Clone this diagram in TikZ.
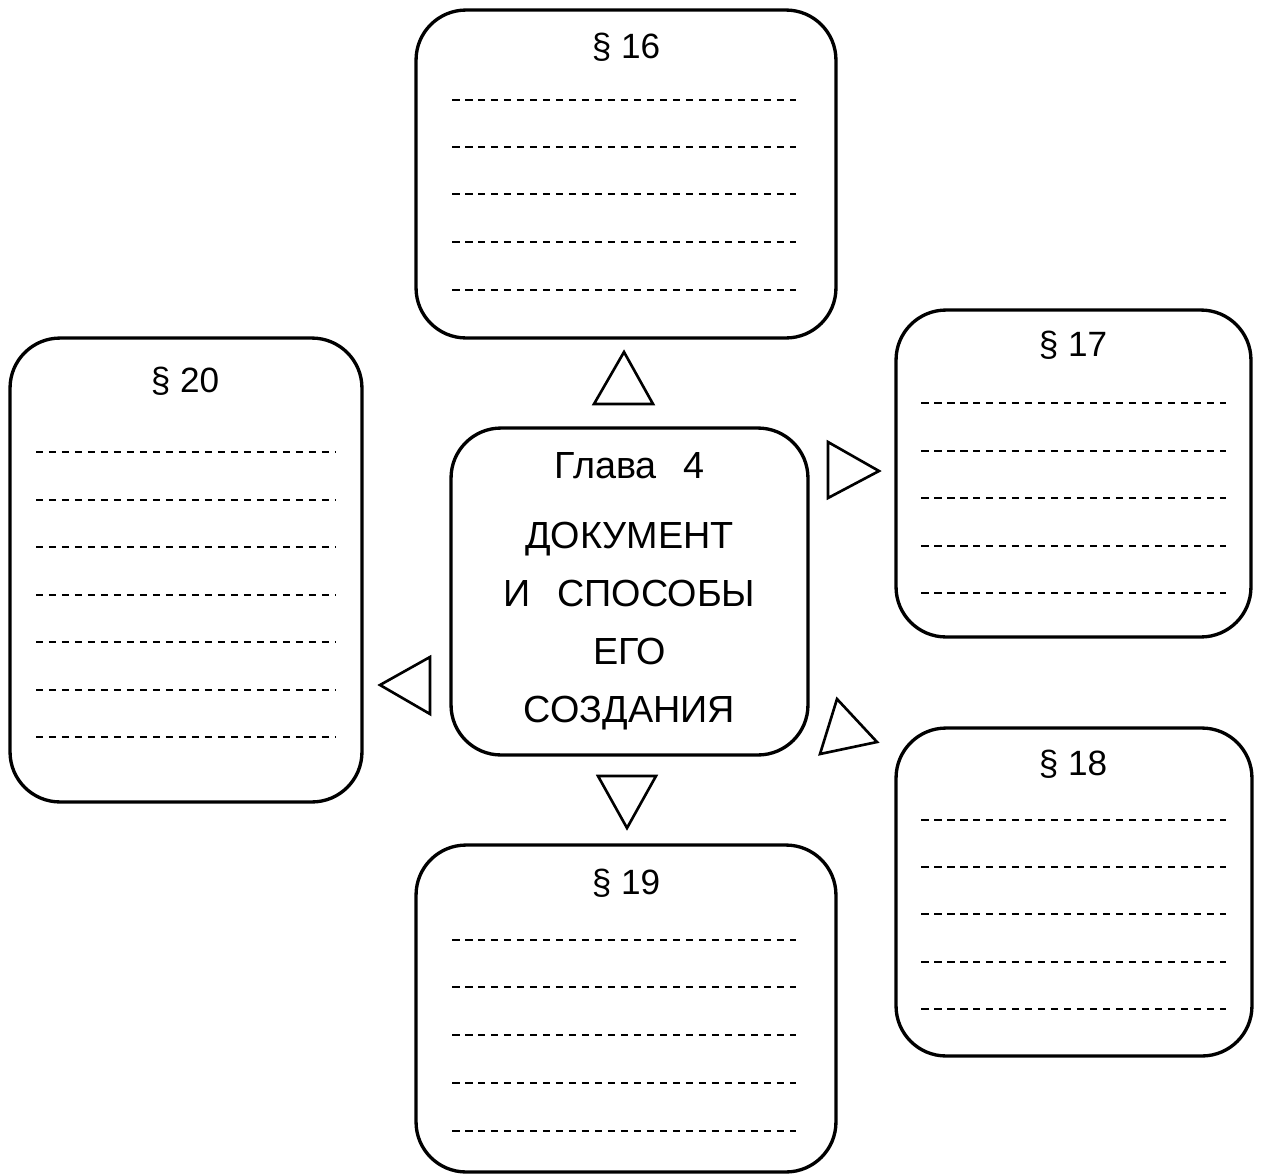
\documentclass[tikz,border=0pt]{standalone}
\usepackage{fontspec}
\setmainfont{Liberation Sans}
\begin{document}
\begin{tikzpicture}[x=0.02cm,y=-0.02cm]
            \tikzset{Para/.style={%
                shape=rectangle,%
                draw=black,%
                line width=1.9pt,%
                rounded corners=1cm,%
                inner sep=0pt,%
            }}
            \tikzset{Title/.style={%
                font=\fontsize{20}{24}\selectfont,%
                inner sep=0pt,%
            }}
            \tikzset{Line/.style={%
                line width=1.3pt,%
                dash pattern=on 0.15cm off 0.11cm,%
            }}
            \tikzset{Tri/.style={%
                line width=1.5pt,%
                line join=miter,%
            }}
            \useasboundingbox (0,0) rectangle (1261,1174);

            \node[Para, minimum width=7.14cm, minimum height=6.54cm, align=center,
                  font=\fontsize{21.5}{33}\selectfont] (ch4) at (629.5,591.5)
                  {Глава\hspace{0.7em}4\\[7pt]ДОКУМЕНТ\\И\hspace{0.7em}СПОСОБЫ\\ЕГО\\СОЗДАНИЯ};

            \node[Para, minimum width=8.4cm, minimum height=6.56cm] (p16) at (626,174) {};
            \node[Para, minimum width=7.1cm, minimum height=6.54cm] (p17) at (1073.5,473.5) {};
            \node[Para, minimum width=7.12cm, minimum height=6.56cm] (p18) at (1074,892) {};
            \node[Para, minimum width=8.4cm, minimum height=6.54cm] (p19) at (626,1008.5) {};
            \node[Para, minimum width=7.04cm, minimum height=9.28cm] (p20) at (186,570) {};

            \node[Title] (t16) at (626,47) {§ 16};
            \node[Title] (t17) at (1073,345) {§ 17};
            \node[Title] (t18) at (1073,764) {§ 18};
            \node[Title] (t19) at (626,883) {§ 19};
            \node[Title] (t20) at (185,381) {§ 20};

            % lines to fill in
            \foreach \y in {100,147,194,242,290} \draw[Line] (452,\y) -- (796,\y);
            \foreach \y in {403,451,498,546,593} \draw[Line] (921,\y) -- (1226,\y);
            \foreach \y in {820,867,914,962,1009} \draw[Line] (921,\y) -- (1226,\y);
            \foreach \y in {940,987,1035,1083,1131} \draw[Line] (452,\y) -- (796,\y);
            \foreach \y in {452,500,547,595,642,690,737} \draw[Line] (36,\y) -- (336,\y);

            % triangles
            \draw[Tri] (624,352) -- (653,404) -- (594,404) -- cycle;
            \draw[Tri] (828,442) -- (879,471) -- (828,498) -- cycle;
            \draw[Tri] (837,699) -- (877,742) -- (820,754) -- cycle;
            \draw[Tri] (598,776) -- (656,776) -- (627,828) -- cycle;
            \draw[Tri] (380,685) -- (430,657) -- (430,714) -- cycle;
\end{tikzpicture}
\end{document}
